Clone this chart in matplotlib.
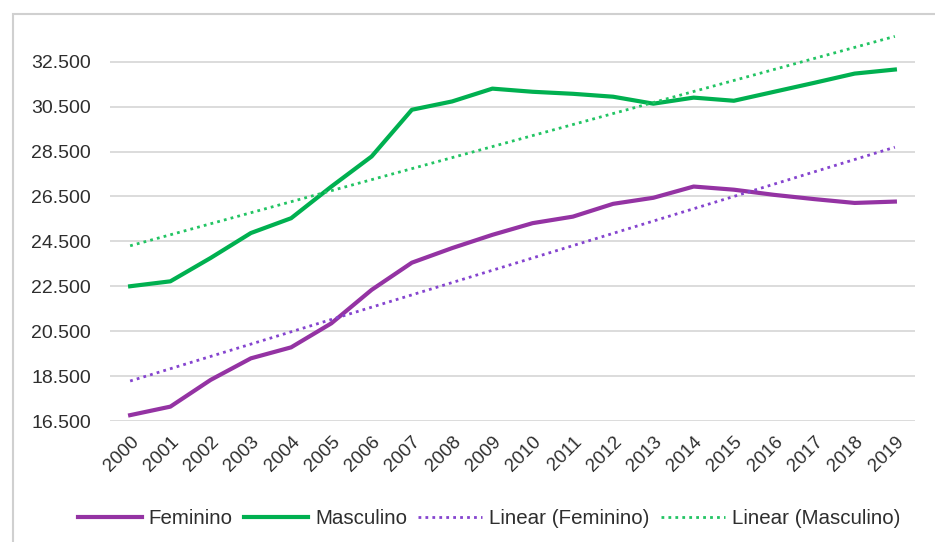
import matplotlib.pyplot as plt
import numpy as np
from matplotlib.patches import Rectangle
from matplotlib.ticker import FuncFormatter

years = list(range(2000, 2020))
feminino = [16760, 17140, 18330, 19290, 19780, 20850, 22340, 23550, 24200, 24790,
            25310, 25600, 26170, 26440, 26940, 26800, 26570, 26380, 26210, 26270]
masculino = [22500, 22720, 23760, 24870, 25530, 26940, 28280, 30360, 30730, 31300,
             31160, 31070, 30940, 30630, 30900, 30760, 31160, 31560, 31970, 32150]
y_ticks = [16500, 18500, 20500, 22500, 24500, 26500, 28500, 30500, 32500]

COLOR_FEM = "#9433A3"
COLOR_MASC = "#00B050"
COLOR_FEM_TREND = "#8544CF"
COLOR_MASC_TREND = "#22C463"
TEXT_COLOR = "#2E2E2E"


def trend(values):
    x = np.arange(len(values))
    slope, intercept = np.polyfit(x, values, 1)
    return slope * x + intercept


def thousands(v, pos):
    return f"{int(v):,}".replace(",", ".")


plt.rcParams["font.family"] = ["Liberation Sans", "DejaVu Sans"]

fig = plt.figure(figsize=(9.35, 5.42), dpi=100)
fig.patches.append(Rectangle((13 / 935, -0.1), 1.2, 1 - 14 / 542 + 0.1,
                             transform=fig.transFigure, fill=False,
                             edgecolor="#D0D0D0", linewidth=1.5))

ax = fig.add_axes([110 / 935, 121 / 542, 805 / 935, 393 / 542])

x = np.arange(len(years))
ax.plot(x, feminino, color=COLOR_FEM, linewidth=3, label="Feminino")
ax.plot(x, masculino, color=COLOR_MASC, linewidth=3, label="Masculino")
ax.plot(x, trend(feminino), color=COLOR_FEM_TREND, linewidth=2,
        linestyle=(0, (1, 1.5)), label="Linear (Feminino)")
ax.plot(x, trend(masculino), color=COLOR_MASC_TREND, linewidth=2,
        linestyle=(0, (1, 1.5)), label="Linear (Masculino)")

ax.set_xlim(-0.5, len(years) - 0.5)
ax.set_ylim(16500, 34000)
ax.set_yticks(y_ticks)
ax.yaxis.set_major_formatter(FuncFormatter(thousands))
ax.set_xticks(x)
ax.set_xticklabels([str(y) for y in years], rotation=45, ha="right",
                   va="top", rotation_mode="anchor", fontsize=13.5)

ax.grid(axis="y", color="#D9D9D9", linewidth=1.3)
ax.set_axisbelow(True)
for side in ["top", "right", "left", "bottom"]:
    ax.spines[side].set_visible(False)
ax.tick_params(axis="both", length=0, colors=TEXT_COLOR)
ax.tick_params(axis="y", pad=13.5, labelsize=14)
ax.tick_params(axis="x", pad=9)

fig.legend(loc="center", bbox_to_anchor=(0.523, 1 - 519 / 542), ncol=4,
           frameon=False, fontsize=14.8, handlelength=3.1, columnspacing=0.55,
           handletextpad=0.35, labelcolor=TEXT_COLOR)

fig.savefig("out.png", dpi=100)
